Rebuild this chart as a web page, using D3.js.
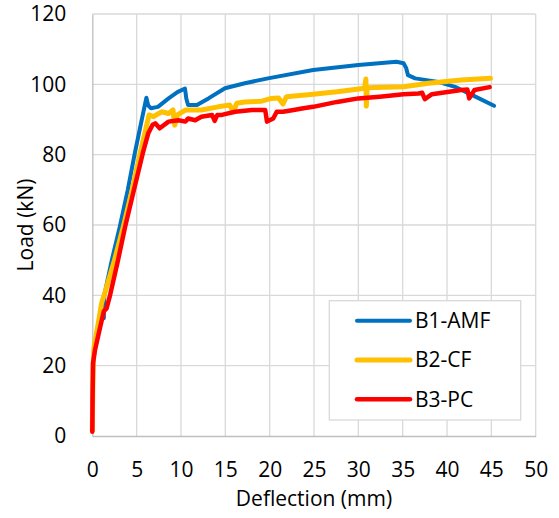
<!DOCTYPE html>
<html>
<head>
<meta charset="utf-8">
<script src="https://cdn.jsdelivr.net/npm/d3@7"></script>
<style>
  body { margin: 0; background: #fff; }
  text { font-family: 'Open Sans', sans-serif; fill: #000; }
</style>
</head>
<body>
<svg id="chart" width="559" height="518"></svg>
<script>
// deflection (mm), load (kN) pairs
var b1amf = [[0,1.5],[0.05,14],[0.1,20],[0.3,26],[0.7,31],[1.1,34.5],[1.3,33.5],[1.35,40],[2.2,50],[3.1,59.5],
  [4.0,70],[4.8,80.5],[5.5,89],[6.1,96.2],[6.3,94],[6.6,93.2],[7.4,93.6],[8.6,96],[9.6,97.8],[10.45,98.8],
  [10.6,96],[10.8,94.1],[11.8,94.1],[13.1,96],[14.96,98.9],[17.2,100.3],[19.8,101.7],[24.9,104.1],
  [30,105.5],[34.3,106.4],[35.1,106],[35.4,104.6],[35.6,102.6],[36.4,101.7],[39,100.7],[40.9,99.3],
  [42.8,97],[45.3,93.9]]
var b2cf = [[0,1.5],[0.05,12],[0.1,20],[0.2,25.4],[0.6,31],[1.05,37.8],[1.4,40.6],[1.8,44],[2.5,50],
  [3.5,59.5],[4.5,70],[5.4,80.5],[6.0,87],[6.4,91.3],[6.9,90.8],[7.8,92.2],[8.6,91.7],[9.1,92.7],[9.3,88.4],
  [9.6,91.3],[10.5,92.7],[12.3,92.7],[14.2,93.6],[15.5,94.1],[15.9,92.2],[16.3,94.6],[17.2,95],[19.1,95.2],
  [20.2,96],[21.0,96.1],[21.5,94.4],[21.9,96.5],[24.9,97.2],[27.6,97.9],[30.7,98.9],[30.85,101.5],
  [30.9,93.8],[31.0,99],[35.1,99.3],[37.9,100.3],[41.6,101.2],[44.9,101.7]]
var b3pc = [[0,1.2],[0.03,10],[0.08,20.7],[0.3,24.4],[0.8,30],[1.3,35.5],[1.6,36.2],[2.0,40],[2.9,50],
  [3.7,59.5],[4.7,70],[5.7,80.5],[6.3,86],[6.8,88.5],[7.1,88.9],[7.6,87.5],[8.6,89.4],[9.7,89.8],[10.5,89.4],
  [10.8,90.3],[11.6,89.8],[12.3,90.8],[13.5,91.3],[13.8,89.6],[14.1,91.3],[14.6,91.3],[16.1,92.2],[18,92.7],
  [19.5,92.7],[19.7,89.4],[20.4,90.3],[20.8,92.2],[21.5,92.2],[22.7,92.7],[23.8,93.2],[24.9,93.6],[27.6,95],
  [30,96],[32.4,96.5],[35.1,97.2],[36.8,97.4],[37.2,97.6],[37.5,95.8],[38.3,97.2],[41.6,98.4],[42.3,98.5],
  [42.5,96],[43.1,98.4],[44.8,99.2]]

var seriesNames = ['B1-AMF', 'B2-CF', 'B3-PC']
var seriesData = [b1amf, b2cf, b3pc]
var xTicks = [0, 5, 10, 15, 20, 25, 30, 35, 40, 45, 50]
var yTicks = [0, 20, 40, 60, 80, 100, 120]

var colors = ['#0070c0', '#ffc000', '#ff0000']
var widths = [4, 5, 4.5]
var fontSize = '21px'

var svg = d3.select('#chart')
var plotL = 92.3, plotR = 535.7, plotT = 14, plotB = 436

var x = d3.scaleLinear().domain([0, 50]).range([plotL, plotR])
var y = d3.scaleLinear().domain([0, 120]).range([plotB, plotT])

// grid
svg.append('g').selectAll('line')
  .data(xTicks.slice(1))
  .enter().append('line')
  .attr('x1', function(d){ return x(d) }).attr('x2', function(d){ return x(d) })
  .attr('y1', plotT).attr('y2', plotB)
  .attr('stroke', '#d9d9d9').attr('stroke-width', 1.3)
svg.append('g').selectAll('line')
  .data(yTicks.slice(1))
  .enter().append('line')
  .attr('x1', plotL).attr('x2', plotR)
  .attr('y1', function(d){ return y(d) }).attr('y2', function(d){ return y(d) })
  .attr('stroke', '#d9d9d9').attr('stroke-width', 1.3)

// axes
var xAxis = svg.append('g').attr('transform', 'translate(0,' + plotB + ')')
  .call(d3.axisBottom(x).tickValues(xTicks).tickSize(0).tickPadding(26))
var yAxis = svg.append('g').attr('transform', 'translate(' + plotL + ',0)')
  .call(d3.axisLeft(y).tickValues(yTicks).tickSize(0).tickPadding(26))
;[xAxis, yAxis].forEach(function(a){
  a.select('.domain').attr('stroke', '#bfbfbf').attr('stroke-width', 1.3)
  a.selectAll('text').style('font-size', fontSize).style('font-family', "'Open Sans', sans-serif")
})

svg.append('text')
  .attr('x', (plotL + plotR) / 2).attr('y', 506)
  .attr('text-anchor', 'middle').style('font-size', fontSize)
  .text('Deflection (mm)')
svg.append('text')
  .attr('transform', 'translate(33,' + (plotT + plotB) / 2 + ') rotate(-90)')
  .attr('text-anchor', 'middle').style('font-size', fontSize)
  .text('Load (kN)')

// curves
var line = d3.line()
  .x(function(d){ return x(d[0]) })
  .y(function(d){ return y(d[1]) })

svg.append('g').selectAll('path')
  .data(seriesData)
  .enter().append('path')
  .attr('d', line)
  .attr('fill', 'none')
  .attr('stroke', function(d, i){ return colors[i] })
  .attr('stroke-width', function(d, i){ return widths[i] })
  .attr('stroke-linejoin', 'round')
  .attr('stroke-linecap', 'round')

// legend
var legend = svg.append('g')
legend.append('rect')
  .attr('x', 329.3).attr('y', 300.7).attr('width', 191.4).attr('height', 119.3)
  .attr('fill', '#fff').attr('stroke', '#d9d9d9').attr('stroke-width', 1.3)
var items = legend.selectAll('g')
  .data(seriesNames)
  .enter().append('g')
  .attr('transform', function(d, i){ return 'translate(0,' + (320.7 + i * 39.3) + ')' })
items.append('line')
  .attr('x1', 357).attr('x2', 410)
  .attr('stroke', function(d, i){ return colors[i] })
  .attr('stroke-width', function(d, i){ return widths[i] })
  .attr('stroke-linecap', 'round')
items.append('text')
  .attr('x', 415).attr('dy', '0.35em')
  .style('font-size', fontSize)
  .text(function(d){ return d })
</script>
</body>
</html>
